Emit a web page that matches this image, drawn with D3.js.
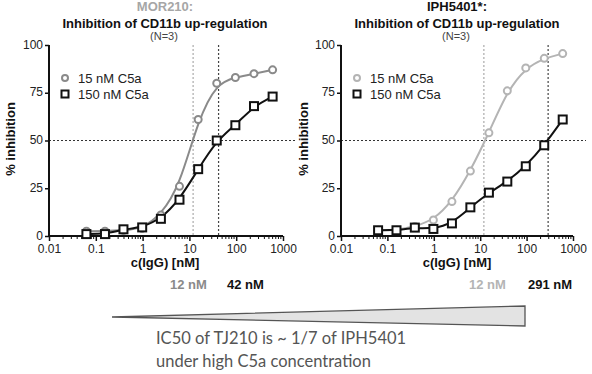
<!DOCTYPE html>
<html><head><meta charset="utf-8">
<script src="https://cdn.jsdelivr.net/npm/d3@7"></script>
<style>body{margin:0;background:#fff}svg{display:block}</style>
</head><body><svg id="c" width="592" height="374"></svg>
<script>
// ---- data ----
const concentrations = [0.063, 0.157, 0.39, 0.98, 2.46, 6.14, 15.4, 38.4, 96, 240, 600];
const mor210_15nM  = [2.5, 2.5, 3, 4, 11, 26, 61, 80, 83, 85, 87];
const mor210_150nM = [1, 1, 3.5, 4.5, 9, 19, 35, 50, 58, 68, 73];
const iph5401_15nM  = [3, 3, 5, 8.4, 18, 34, 54, 76, 88, 93, 95.5];
const iph5401_150nM = [3, 3, 4.4, 3.7, 6.6, 15, 22.7, 28.5, 36.5, 47.5, 61];
const ic50Left = [12, 42];
const ic50Right = [12, 291];
const xTicks = [0.01, 0.1, 1, 10, 100, 1000];
const xTickLabels = ["0.01", "0.1", "1", "10", "100", "1000"];
const yTicks = [0, 25, 50, 75, 100];
const seriesNames = ["15 nM C5a", "150 nM C5a"];

const svg = d3.select("#c");
const font = "'Liberation Sans', Arial, sans-serif";

function panel(o) {
  const x = d3.scaleLog().domain([0.01, 1000]).range(o.xr);
  const y = d3.scaleLinear().domain([0, 100]).range([236, 45]);
  const g = svg.append("g");

  // titles
  g.append("text").attr("x", o.cx).attr("y", 11).attr("text-anchor", "middle")
    .attr("font-family", font).attr("font-weight", "bold").attr("font-size", 13)
    .attr("fill", o.titleColor).text(o.title);
  g.append("text").attr("x", o.cx).attr("y", 28).attr("text-anchor", "middle")
    .attr("font-family", font).attr("font-weight", "bold").attr("font-size", 13)
    .attr("fill", "#111").text("Inhibition of CD11b up-regulation");
  g.append("text").attr("x", o.cx - 1).attr("y", 40).attr("text-anchor", "middle")
    .attr("font-family", font).attr("font-size", 11)
    .attr("fill", "#444").text("(N=3)");

  // reference lines
  g.append("line").attr("x1", x(0.01)).attr("x2", o.hEnd).attr("y1", y(50)).attr("y2", y(50))
    .attr("stroke", "#333").attr("stroke-width", 1.2).attr("stroke-dasharray", "2,2");
  o.ic50.forEach((v, i) => {
    g.append("line").attr("x1", x(v)).attr("x2", x(v)).attr("y1", y(100)).attr("y2", y(0))
      .attr("stroke", i === 0 ? "#aaa" : "#444").attr("stroke-width", 1.2)
      .attr("stroke-dasharray", "2,2");
  });

  // axes
  const xAxis = d3.axisBottom(x).tickValues(xTicks).tickFormat((d, i) => xTickLabels[i])
    .tickSize(5).tickPadding(3);
  const gx = g.append("g").attr("transform", "translate(0,236)").call(xAxis);
  const minor = [];
  for (let e = -2; e < 3; e++) for (let m = 2; m <= 9; m++) minor.push(m * Math.pow(10, e));
  gx.selectAll(".minor").data(minor).enter().append("line").attr("class", "minor")
    .attr("x1", d => x(d)).attr("x2", d => x(d)).attr("y1", 0).attr("y2", 3)
    .attr("stroke", "#111").attr("stroke-width", 1);
  const yAxis = d3.axisLeft(y).tickValues(yTicks).tickSize(4).tickPadding(2);
  const gy = g.append("g").attr("transform", `translate(${o.xr[0]},0)`).call(yAxis);
  [gx, gy].forEach(a => {
    a.select(".domain").attr("stroke", "#111").attr("stroke-width", 2);
    a.selectAll(".tick line").attr("stroke", "#111").attr("stroke-width", 1.5);
    a.selectAll("text").attr("font-family", font).attr("font-size", 12).attr("fill", "#222");
  });
  gy.selectAll("text").attr("dy", "0.25em");
  gx.select(".domain").attr("d", `M${o.xr[0]},0H${o.xr[1]}`);
  gy.select(".domain").attr("d", `M0,${y(0)}V${y(100)}`);

  // axis labels
  g.append("text").attr("x", o.cx).attr("y", 267).attr("text-anchor", "middle")
    .attr("font-family", font).attr("font-weight", "bold").attr("font-size", 13)
    .attr("fill", "#111").text("c(IgG) [nM]");
  g.append("text").attr("transform", `translate(${o.ylx},139) rotate(-90)`).attr("text-anchor", "middle")
    .attr("font-family", font).attr("font-weight", "bold").attr("font-size", 13)
    .attr("fill", "#111").text("% inhibition");

  // series
  const line = d3.line().x(d => x(d[0])).y(d => y(d[1])).curve(d3.curveBasis);
  const s15 = concentrations.map((c, i) => [c, o.s15[i]]);
  const s150 = concentrations.map((c, i) => [c, o.s150[i]]);
  g.append("path").datum(s15).attr("d", line).attr("fill", "none")
    .attr("stroke", o.c15).attr("stroke-width", 2);
  g.append("path").datum(s150).attr("d", line).attr("fill", "none")
    .attr("stroke", "#111").attr("stroke-width", 2);
  g.selectAll(".c15").data(s15).enter().append("circle")
    .attr("cx", d => x(d[0])).attr("cy", d => y(d[1])).attr("r", 3.5)
    .attr("fill", "#fff").attr("stroke", o.c15).attr("stroke-width", 2);
  g.selectAll(".s150").data(s150).enter().append("rect")
    .attr("x", d => x(d[0]) - 4).attr("y", d => y(d[1]) - 4).attr("width", 8).attr("height", 8)
    .attr("fill", "#fff").attr("stroke", "#111").attr("stroke-width", 2);

  // legend
  const lx = o.xr[0] + 16;
  g.append("circle").attr("cx", lx).attr("cy", 78).attr("r", 3)
    .attr("fill", "#fff").attr("stroke", o.c15).attr("stroke-width", 2);
  g.append("rect").attr("x", lx - 3.5).attr("y", 90.5).attr("width", 7).attr("height", 7)
    .attr("fill", "#fff").attr("stroke", "#111").attr("stroke-width", 2);
  g.append("text").attr("x", lx + 13).attr("y", 83).attr("font-family", font).attr("font-size", 13)
    .attr("fill", "#222").text(seriesNames[0]);
  g.append("text").attr("x", lx + 13).attr("y", 99).attr("font-family", font).attr("font-size", 13)
    .attr("fill", "#222").text(seriesNames[1]);

  // IC50 labels
  o.icLabels.forEach((t, i) => {
    g.append("text").attr("x", t.x).attr("y", 289).attr("font-family", font).attr("font-weight", "bold")
      .attr("font-size", 13).attr("fill", i === 0 ? o.icColor : "#111").text(o.ic50[i] + " nM");
  });
}

panel({xr: [49, 283], cx: 165, hEnd: 297, title: "MOR210:", titleColor: "#a6a6a6",
  s15: mor210_15nM, s150: mor210_150nM, c15: "#8a8a8a", ic50: ic50Left, ylx: 15,
  icColor: "#8a8a8a", icLabels: [{x: 170}, {x: 227}]});
panel({xr: [341, 573], cx: 457, hEnd: 586, title: "IPH5401*:", titleColor: "#111",
  s15: iph5401_15nM, s150: iph5401_150nM, c15: "#b4b4b4", ic50: ic50Right, ylx: 308,
  icColor: "#b4b4b4", icLabels: [{x: 469}, {x: 528}]});

// triangle
svg.append("path").attr("d", "M112,317L525,306L525,326Z")
  .attr("fill", "#e3e3e3").attr("stroke", "#555").attr("stroke-width", 1.3);
svg.append("text").attr("x", 156).attr("y", 344).attr("font-family", "Lato, 'Open Sans', sans-serif")
  .attr("font-size", 16.5).attr("fill", "#555").text("IC50 of TJ210 is ~ 1/7 of IPH5401");
svg.append("text").attr("x", 156).attr("y", 367).attr("font-family", "Lato, 'Open Sans', sans-serif")
  .attr("font-size", 16.5).attr("fill", "#555").text("under high C5a concentration");
</script></body></html>
